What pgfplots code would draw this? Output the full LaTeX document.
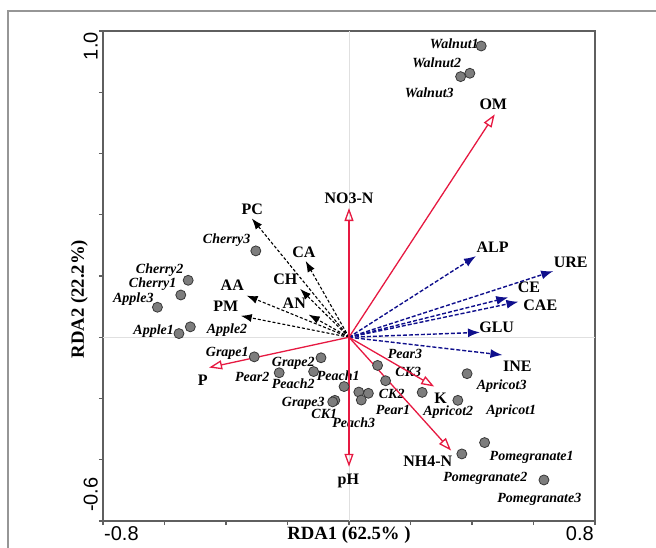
\documentclass[border=0pt]{standalone}
\usepackage{fontspec}
\setmainfont{Liberation Serif}
\setsansfont{Liberation Sans}
\usepackage{pgfplots}
\pgfplotsset{compat=1.18}
\usetikzlibrary{arrows.meta}
\definecolor{redarr}{RGB}{230,25,65}
\definecolor{navyarr}{RGB}{15,15,140}
\definecolor{ptfill}{RGB}{125,125,125}
\definecolor{ptdraw}{RGB}{55,55,55}
\definecolor{axcol}{RGB}{95,95,95}
\definecolor{framecol}{RGB}{150,150,150}
\newcommand\vlab[3]{\node[font=\fontsize{16}{18}\selectfont\bfseries, anchor=base, inner sep=0pt] at (axis cs:{(#1-349)/307.5},{(337.25-#2-5.3)/306.25}) {#3};}
\newcommand\slab[3]{\node[font=\fontsize{14}{16}\selectfont\bfseries\itshape, anchor=base, inner sep=0pt] at (axis cs:{(#1-349)/307.5},{(337.25-#2-4.6)/306.25}) {#3};}
\tikzset{
  redv/.style={redarr, line width=1.3pt, -{Triangle[open,length=13pt,width=9pt]}},
  blkv/.style={black, line width=1.1pt, dash pattern=on 3pt off 2pt, -{Latex[length=11pt,width=8pt]}},
  navv/.style={navyarr, line width=1.4pt, dash pattern=on 4pt off 2pt, -{Latex[length=12pt,width=9pt]}},
}
\begin{document}
\begin{tikzpicture}[x=1pt,y=1pt]
\begin{axis}[
  anchor=south west, scale only axis,
  width=492pt, height=490pt,
  xmin=-0.8, xmax=0.8, ymin=-0.6, ymax=1.0,
  clip=false,
  axis line style={axcol, line width=1.5pt},
  tick style={axcol, line width=1.2pt},
  tick align=outside, major tick length=4pt, minor tick length=4pt,
  xtick pos=bottom, ytick pos=left,
  xtick={0.8}, xticklabels={0.8},
  minor xtick={-0.6,-0.4,-0.2,0,0.2,0.4,0.6},
  extra x ticks={-0.8}, extra x tick labels={-0.8},
  extra x tick style={xticklabel style={anchor=north west}},
  xticklabel style={font=\fontsize{20}{24}\selectfont\sffamily, anchor=north east, inner sep=1pt},
  ytick={1.0}, yticklabels={1.0},
  minor ytick={-0.4,-0.2,0,0.2,0.4,0.6,0.8},
  extra y ticks={-0.6}, extra y tick labels={-0.6},
  extra y tick style={yticklabel style={anchor=south west, xshift=8pt}},
  yticklabel style={font=\fontsize{20}{24}\selectfont\sffamily, rotate=90, anchor=south east, inner sep=1pt},
  xlabel={RDA1 (62.5\% )}, ylabel={RDA2 (22.2\%)},
  label style={font=\fontsize{18.7}{22}\selectfont\bfseries},
  xlabel style={at={(axis description cs:0.5,-0.0286)}, anchor=center},
  ylabel style={at={(axis description cs:-0.048,0.453)}, anchor=center},
]
\draw[black!12, line width=0.8pt] (axis cs:0,-0.6) -- (axis cs:0,1.0);
\draw[black!12, line width=0.8pt] (axis cs:-0.8,0) -- (axis cs:0.8,0);

% sample labels
\slab{454.3}{44}{Walnut1}
\slab{436.7}{63.3}{Walnut2}
\slab{429.3}{92.7}{Walnut3}
\slab{226.7}{239}{Cherry3}
\slab{159.7}{269.3}{Cherry2}
\slab{152.7}{283.3}{Cherry1}
\slab{133.3}{297.7}{Apple3}
\slab{153.7}{330}{Apple1}
\slab{227}{328.7}{Apple2}
\slab{227.3}{352.3}{Grape1}
\slab{293.3}{362.3}{Grape2}
\slab{252.3}{376.7}{Pear2}
\slab{293.3}{384}{Peach2}
\slab{338.3}{375.7}{Peach1}
\slab{303.3}{401.7}{Grape3}
\slab{324.3}{414.3}{CK1}
\slab{353.7}{422.7}{Peach3}
\slab{405}{354}{Pear3}
\slab{408.3}{372.3}{CK3}
\slab{391.7}{394.3}{CK2}
\slab{393}{410}{Pear1}
\slab{448.3}{411}{Apricot2}
\slab{501.7}{385}{Apricot3}
\slab{511.3}{410}{Apricot1}
\slab{531.7}{455.7}{Pomegranate1}
\slab{485.3}{476.7}{Pomegranate2}
\slab{539.3}{498.3}{Pomegranate3}

% variable labels
\vlab{493.3}{104.3}{OM}
\vlab{349}{198}{NO3-N}
\vlab{252.3}{209.3}{PC}
\vlab{304}{251.7}{CA}
\vlab{285.3}{279.3}{CH}
\vlab{294.3}{303.3}{AN}
\vlab{232.3}{285}{AA}
\vlab{225.7}{305.7}{PM}
\vlab{202.7}{380}{P}
\vlab{348.3}{479.3}{pH}
\vlab{427.7}{461}{NH4-N}
\vlab{440.7}{398.3}{K}
\vlab{492.7}{246.7}{ALP}
\vlab{570.7}{261.7}{URE}
\vlab{529}{287.3}{CE}
\vlab{540.3}{305}{CAE}
\vlab{496.7}{326.7}{GLU}
\vlab{517.3}{366}{INE}

% black dashed arrows
\addplot[blkv] coordinates {(0,0) (-0.316,0.388)};
\addplot[blkv] coordinates {(0,0) (-0.141,0.249)};
\addplot[blkv] coordinates {(0,0) (-0.159,0.158)};
\addplot[blkv] coordinates {(0,0) (-0.131,0.074)};
\addplot[blkv] coordinates {(0,0) (-0.333,0.136)};
\addplot[blkv] coordinates {(0,0) (-0.352,0.070)};
% navy dashed arrows
\addplot[navv] coordinates {(0,0) (0.413,0.265)};
\addplot[navv] coordinates {(0,0) (0.664,0.216)};
\addplot[navv] coordinates {(0,0) (0.518,0.130)};
\addplot[navv] coordinates {(0,0) (0.551,0.116)};
\addplot[navv] coordinates {(0,0) (0.426,0.016)};
\addplot[navv] coordinates {(0,0) (0.499,-0.058)};
% red solid arrows
\addplot[redv] coordinates {(0,0) (0,0.422)};
\addplot[redv] coordinates {(0,0) (0,-0.423)};
\addplot[redv] coordinates {(0,0) (-0.455,-0.099)};
\addplot[redv] coordinates {(0,0) (0.277,-0.161)};
\addplot[redv] coordinates {(0,0) (0.332,-0.370)};
\addplot[redv] coordinates {(0,0) (0.474,0.728)};

% samples
\addplot[only marks, mark=*, mark size=5pt, mark options={fill=ptfill, draw=ptdraw, line width=0.8pt}] coordinates {
(-0.303,0.282) (-0.523,0.186) (-0.547,0.138) (-0.623,0.098) (-0.516,0.034) (-0.553,0.012)
(-0.308,-0.064) (-0.091,-0.067) (-0.227,-0.116) (-0.115,-0.112) (-0.016,-0.161)
(0.032,-0.179) (0.063,-0.183) (0.040,-0.205) (-0.046,-0.206) (-0.053,-0.211)
(0.093,-0.092) (0.119,-0.142) (0.238,-0.180) (0.354,-0.206) (0.384,-0.119)
(0.441,-0.344) (0.367,-0.381) (0.634,-0.466)
(0.430,0.951) (0.393,0.862) (0.363,0.851)
};
\end{axis}
\draw[framecol, line width=1.5pt] (-95,-40) -- (-95,510) -- (570,510);
\pgfresetboundingbox
\useasboundingbox (-103,-26) rectangle (553,521);
\end{tikzpicture}
\end{document}
